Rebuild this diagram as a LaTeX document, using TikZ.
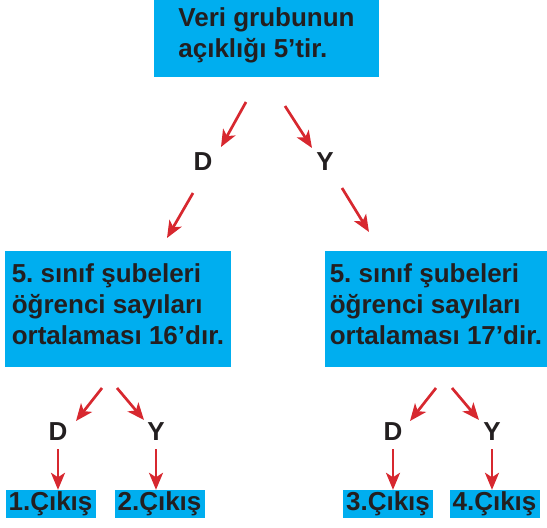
\documentclass[tikz,border=0pt]{standalone}
\usepackage{fontspec}
\setmainfont{Liberation Sans}
\usetikzlibrary{arrows.meta}
\definecolor{boxcyan}{HTML}{00AEEF}
\definecolor{arrowred}{HTML}{D7282F}
\definecolor{inkdark}{HTML}{231F20}
\newcommand{\padbelow}[1]{\rule[-#1]{0pt}{#1}}
\frenchspacing

\begin{document}
\begin{tikzpicture}[x=1pt, y=-1pt, font=\fontsize{26}{31}\selectfont\bfseries, text=inkdark,
  infobox/.style={fill=boxcyan, align=left, inner sep=0pt},
  exitbox/.style={fill=boxcyan, minimum width=90pt, minimum height=28pt, inner sep=0pt},
  answer/.style={inner sep=0pt},
  arr/.style={draw=arrowred, line width=2.7pt, -{Stealth[length=17pt, width=14pt, inset=4.5pt]}}]
  \useasboundingbox (0,0) rectangle (547,528);
  % question at the top
  \node[infobox, minimum width=225pt, minimum height=77pt] (root) at (266.5,38.5) {Veri grubunun\\açıklığı 5’tir.\padbelow{11pt}};
  \node[answer] (rootD) at (203,162) {D};
  \node[answer] (rootY) at (325,162) {Y};
  % second level questions
  \node[infobox, minimum width=226pt, minimum height=116pt] (left) at (118,309) {5. sınıf şubeleri\\öğrenci sayıları\\ortalaması 16’dır.\padbelow{10pt}};
  \node[infobox, minimum width=222pt, minimum height=116pt] (right) at (436,309) {5. sınıf şubeleri\\öğrenci sayıları\\ortalaması 17’dir.\padbelow{10pt}};
  \node[answer] (leftD) at (58,432) {D};
  \node[answer] (leftY) at (156,432) {Y};
  \node[answer] (rightD) at (393,432) {D};
  \node[answer] (rightY) at (492,432) {Y};
  % exits
  \node[exitbox] (exit1) at (50.5,504) {1.Çıkış};
  \node[exitbox] (exit2) at (159.5,504) {2.Çıkış};
  \node[exitbox] (exit3) at (388,504) {3.Çıkış};
  \node[exitbox] (exit4) at (494.5,504) {4.Çıkış};
  % arrow ends
  \coordinate (rootD-s) at (246,102);  \coordinate (rootD-e) at (221,147);
  \coordinate (rootY-s) at (285,106);  \coordinate (rootY-e) at (312,148);
  \coordinate (left-s) at (193,193);   \coordinate (left-e) at (167,238);
  \coordinate (right-s) at (342,188);  \coordinate (right-e) at (369,232);
  \coordinate (leftD-s) at (102,388);  \coordinate (leftD-e) at (76,421);
  \coordinate (leftY-s) at (117,388);  \coordinate (leftY-e) at (144,420);
  \coordinate (rightD-s) at (436,388); \coordinate (rightD-e) at (410,421);
  \coordinate (rightY-s) at (452,388); \coordinate (rightY-e) at (479,420);
  \draw[arr] (rootD-s) -- (rootD-e);
  \draw[arr] (rootY-s) -- (rootY-e);
  \draw[arr] (left-s) -- (left-e);
  \draw[arr] (right-s) -- (right-e);
  \draw[arr] (leftD-s) -- (leftD-e);
  \draw[arr] (leftY-s) -- (leftY-e);
  \draw[arr] (rightD-s) -- (rightD-e);
  \draw[arr] (rightY-s) -- (rightY-e);
  \draw[arr, shorten <=8pt] (leftD) -- (leftD |- exit1.north);
  \draw[arr, shorten <=8pt] (leftY) -- (leftY |- exit2.north);
  \draw[arr, shorten <=8pt] (rightD) -- (rightD |- exit3.north);
  \draw[arr, shorten <=8pt] (rightY) -- (rightY |- exit4.north);
\end{tikzpicture}
\end{document}
